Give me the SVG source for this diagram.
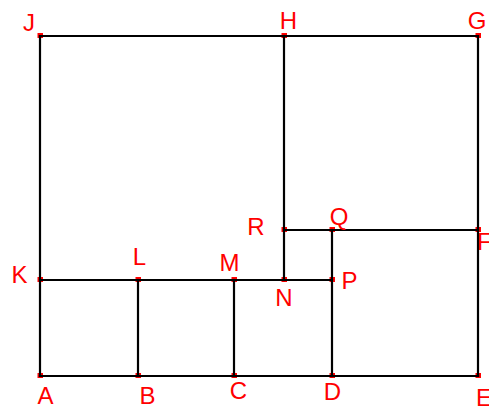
<svg xmlns="http://www.w3.org/2000/svg" width="489" height="408" viewBox="0 0 489 408">
<style>
.ln{stroke:#000;stroke-width:2.2;fill:none;stroke-linecap:square}
.pt{fill:#ff0000}
.lb{fill:#ff0000;font-family:"Liberation Sans",Arial,sans-serif;font-size:24px;text-anchor:middle}
</style>
<rect width="489" height="408" fill="#fff"/>
<g id="points">
<rect class="pt" x="37.5" y="33" width="5.5" height="5"/>
<rect class="pt" x="281.5" y="33" width="5.5" height="5"/>
<rect class="pt" x="475.5" y="33" width="5.5" height="5"/>
<rect class="pt" x="281.5" y="227" width="5.5" height="5"/>
<rect class="pt" x="329.5" y="227" width="5.5" height="5"/>
<rect class="pt" x="475.5" y="227" width="5.5" height="5"/>
<rect class="pt" x="37.5" y="277" width="5.5" height="5"/>
<rect class="pt" x="135.5" y="277" width="5.5" height="5"/>
<rect class="pt" x="231.5" y="277" width="5.5" height="5"/>
<rect class="pt" x="281.5" y="277" width="5.5" height="5"/>
<rect class="pt" x="329.5" y="277" width="5.5" height="5"/>
<rect class="pt" x="37.5" y="373" width="5.5" height="5"/>
<rect class="pt" x="135.5" y="373" width="5.5" height="5"/>
<rect class="pt" x="231.5" y="373" width="5.5" height="5"/>
<rect class="pt" x="329.5" y="373" width="5.5" height="5"/>
<rect class="pt" x="475.5" y="373" width="5.5" height="5"/>
</g>
<g id="connectors">
<line class="ln" x1="40" y1="36" x2="478" y2="36"/>
<line class="ln" x1="40" y1="36" x2="40" y2="376"/>
<line class="ln" x1="40" y1="376" x2="478" y2="376"/>
<line class="ln" x1="478" y1="36" x2="478" y2="376"/>
<line class="ln" x1="284" y1="36" x2="284" y2="280"/>
<line class="ln" x1="40" y1="280" x2="332" y2="280"/>
<line class="ln" x1="284" y1="230" x2="478" y2="230"/>
<line class="ln" x1="332" y1="230" x2="332" y2="376"/>
<line class="ln" x1="138" y1="280" x2="138" y2="376"/>
<line class="ln" x1="234" y1="280" x2="234" y2="376"/>
</g>
<g id="labels">
<text class="lb" x="29" y="31">J</text>
<text class="lb" x="288.5" y="29">H</text>
<text class="lb" x="477" y="29">G</text>
<text class="lb" x="256" y="235">R</text>
<text class="lb" x="339" y="225">Q</text>
<text class="lb" x="477" y="250" style="text-anchor:start">F</text>
<text class="lb" x="349.5" y="289">P</text>
<text class="lb" x="284" y="306">N</text>
<text class="lb" x="229.5" y="271">M</text>
<text class="lb" x="19.5" y="283">K</text>
<text class="lb" x="139.5" y="265">L</text>
<text class="lb" x="45.5" y="404">A</text>
<text class="lb" x="147.5" y="404">B</text>
<text class="lb" x="238.5" y="399">C</text>
<text class="lb" x="332.5" y="400">D</text>
<text class="lb" x="476" y="406" style="text-anchor:start">E</text>
</g>
</svg>
